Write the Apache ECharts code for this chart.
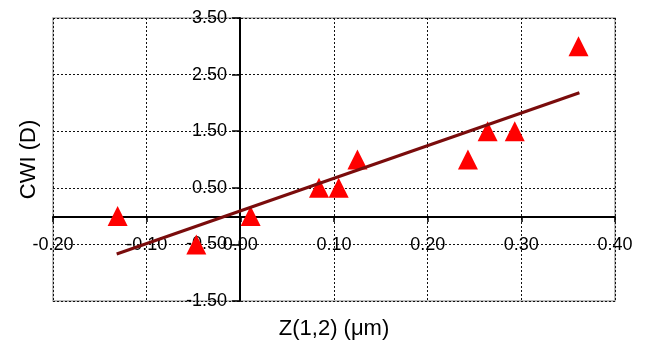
<!DOCTYPE html>
<html>
<head>
<meta charset="utf-8">
<script src="https://cdn.jsdelivr.net/npm/echarts@6/dist/echarts.min.js"></script>
<style>
html,body{margin:0;padding:0;background:#fff;}
#chart{width:647px;height:341px;}
</style>
</head>
<body>
<div id="chart"></div>
<script>
// Data
var xValues = [-0.131, -0.047, 0.011, 0.084, 0.105, 0.125, 0.243, 0.264, 0.293, 0.361];
var yValues = [0, -0.5, 0, 0.5, 0.5, 1.0, 1.0, 1.5, 1.5, 3.0];
var trendX = [-0.132, 0.362];
var trendY = [-0.67, 2.18];
var xTitle = 'Z(1,2) (\u03bcm)';
var yTitle = 'CWI (D)';

var points = xValues.map(function (x, i) { return [x, yValues[i]]; });
var trend = trendX.map(function (x, i) { return [x, trendY[i]]; });

var font = 'Liberation Sans, Arial, sans-serif';
var chart = echarts.init(document.getElementById('chart'));
chart.setOption({
  animation: false,
  backgroundColor: '#ffffff',
  grid: {
    left: 53, right: 32, top: 18, bottom: 40,
    containLabel: false,
    outerBoundsMode: 'none',
    show: true, borderColor: '#a8a8a8', borderWidth: 1.5, backgroundColor: 'transparent'
  },
  xAxis: {
    type: 'value',
    min: -0.2, max: 0.4, interval: 0.1,
    position: 'bottom',
    offset: -84,
    name: xTitle,
    nameLocation: 'middle',
    nameGap: 101,
    nameTextStyle: { fontFamily: font, fontSize: 22, color: '#000' },
    axisLine: { onZero: false, lineStyle: { color: '#000', width: 2 } },
    axisTick: { show: true, inside: false, length: 5, lineStyle: { color: '#000', width: 1.5 } },
    axisLabel: {
      margin: 19, fontFamily: font, fontSize: 18, color: '#000',
      formatter: function (v) { return v.toFixed(2); }
    },
    splitLine: { show: true, lineStyle: { color: '#111', type: [2, 2], width: 1 } }
  },
  yAxis: {
    type: 'value',
    min: -1.5, max: 3.5, interval: 1,
    position: 'left',
    offset: -187,
    name: yTitle,
    nameLocation: 'middle',
    nameGap: 200,
    nameRotate: 90,
    nameTextStyle: { fontFamily: font, fontSize: 22, color: '#000' },
    axisLine: { onZero: false, lineStyle: { color: '#000', width: 2 } },
    axisTick: { show: true, inside: false, length: 8, lineStyle: { color: '#000', width: 1.5 } },
    axisLabel: {
      margin: 13, fontFamily: font, fontSize: 18, color: '#000',
      formatter: function (v) { return v.toFixed(2); }
    },
    splitLine: { show: true, lineStyle: { color: '#111', type: [2, 2], width: 1 } }
  },
  series: [
    {
      type: 'scatter',
      data: points,
      symbol: 'triangle',
      symbolSize: 20,
      itemStyle: { color: '#ff0000', opacity: 1 },
      z: 3
    },
    {
      type: 'line',
      data: trend,
      showSymbol: false,
      symbol: 'none',
      lineStyle: { color: '#7a0c0c', width: 3 },
      z: 4
    }
  ]
});
</script>
</body>
</html>
